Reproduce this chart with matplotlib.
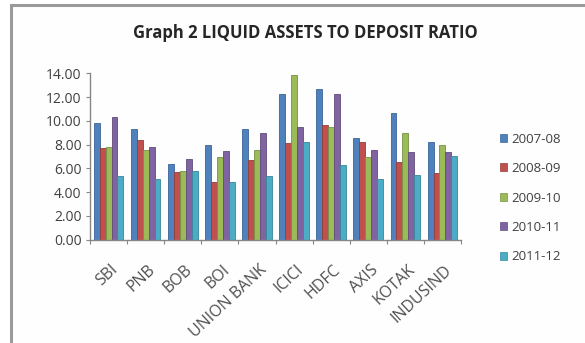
import matplotlib
matplotlib.use("Agg")
import matplotlib.pyplot as plt
import numpy as np
from matplotlib.patches import Rectangle, Patch

# --------------------------
# Data
# --------------------------
banks = ["SBI", "PNB", "BOB", "BOI", "UNION BANK", "ICICI", "HDFC", "AXIS", "KOTAK", "INDUSIND"]
years = ["2007-08", "2008-09", "2009-10", "2010-11", "2011-12"]

y2007_08 = [9.83, 9.35, 6.35, 8.00, 9.30, 12.22, 12.67, 8.51, 10.62, 8.23]
y2008_09 = [7.72, 8.37, 5.65, 4.86, 6.69, 8.17, 9.63, 8.23, 6.54, 5.56]
y2009_10 = [7.81, 7.58, 5.76, 6.97, 7.58, 13.85, 9.49, 6.91, 8.99, 8.00]
y2010_11 = [10.28, 7.81, 6.74, 7.47, 8.93, 9.49, 12.22, 7.58, 7.39, 7.33]
y2011_12 = [5.37, 5.06, 5.79, 4.86, 5.37, 8.23, 6.26, 5.06, 5.42, 7.02]

series = [y2007_08, y2008_09, y2009_10, y2010_11, y2011_12]
colors = ["#4F81BD", "#C0504D", "#9BBB59", "#8064A2", "#4BACC6"]
edges = ["#3A6497", "#963C3A", "#779043", "#624C7C", "#3A8699"]

plt.rcParams['font.family'] = ['Open Sans', 'DejaVu Sans']

W, H = 585, 343
fig = plt.figure(figsize=(W / 100, H / 100), dpi=100)

# chart frame (cut off on the right and bottom in the reference)
fig.patches.append(Rectangle((11 / W, -0.05), 1.2, 1 - 5 / H + 0.05,
                             transform=fig.transFigure, facecolor="#fefefe",
                             edgecolor="#9a9a9a", linewidth=2.2, zorder=-5))

ax = fig.add_axes([90 / W, 1 - 239.5 / H, (461 - 90) / W, (239.5 - 73.3) / H])
ax.set_zorder(2)
ax.patch.set_alpha(0)

x = np.arange(len(banks))
bw = 0.16
for i, (vals, c, e) in enumerate(zip(series, colors, edges)):
    ax.bar(x + (i - 2) * bw, vals, width=bw, color=c, edgecolor=e,
           linewidth=0.6, label=years[i])

ax.set_xlim(-0.5, len(banks) - 0.5)
ax.set_ylim(0, 14)
ax.set_yticks(np.arange(0, 15, 2))
ax.set_yticklabels([f"{v:.2f}" for v in np.arange(0, 15, 2)])

# category boundary ticks, labels centred under each group
ax.set_xticks(np.arange(-0.5, len(banks), 1.0))
ax.set_xticklabels([])
ax.set_xticks(x + 0.05, minor=True)
ax.set_xticklabels(banks, minor=True, rotation=43, ha="right",
                   rotation_mode="anchor", fontsize=11.5, color="#505050")
ax.tick_params(axis="x", which="minor", length=0, pad=16)
ax.tick_params(axis="x", which="major", length=3, color="#868686")
ax.tick_params(axis="y", length=3, color="#868686", labelsize=10,
               labelcolor="#404040", pad=3)

for s in ["top", "right"]:
    ax.spines[s].set_visible(False)
for s in ["left", "bottom"]:
    ax.spines[s].set_color("#868686")
    ax.spines[s].set_linewidth(1.0)

fig.text(305 / W, 1 - 33 / H, "Graph 2 LIQUID ASSETS TO DEPOSIT RATIO",
         ha="center", va="center", fontsize=12, fontweight="bold", color="#262626")

handles = [Patch(facecolor=c, edgecolor=e, linewidth=0.5) for c, e in zip(colors, edges)]
fig.legend(handles, years, loc="center left",
           bbox_to_anchor=(488 / W, 1 - 198 / H), frameon=False,
           fontsize=9.5, handlelength=0.55, handleheight=0.55,
           handletextpad=0.35, labelspacing=1.25, labelcolor="#404040")

fig.savefig("out.png", dpi=100)
